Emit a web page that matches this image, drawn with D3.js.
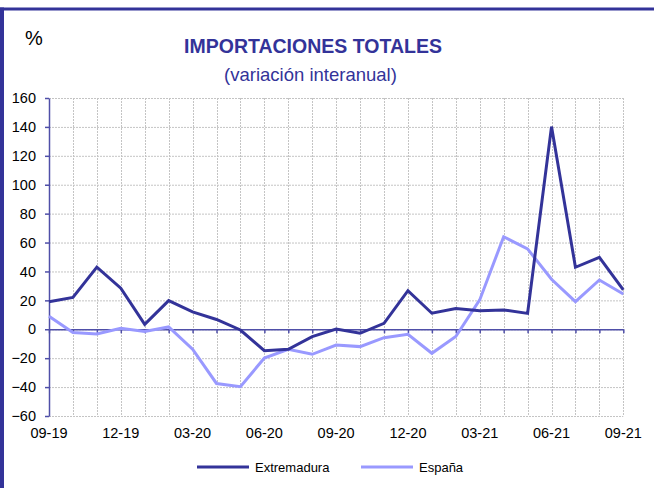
<!DOCTYPE html>
<html>
<head>
<meta charset="utf-8">
<script src="https://cdn.jsdelivr.net/npm/d3@7"></script>
<style>
  body { margin: 0; background: #fff; }
  svg { display: block; font-family: "Liberation Sans", Arial, sans-serif; }
</style>
</head>
<body>
<div id="chart"></div>
<script>
// Chart Data
const months = ["09-19","10-19","11-19","12-19","01-20","02-20","03-20","04-20","05-20","06-20","07-20","08-20",
  "09-20","10-20","11-20","12-20","01-21","02-21","03-21","04-21","05-21","06-21","07-21","08-21","09-21"];
const tickLabels = ["09-19","12-19","03-20","06-20","09-20","12-20","03-21","06-21","09-21"];
const extremadura = [19, 22, 43, 28.4, 3.4, 19.8, 12, 6.8, -0.5, -14.8, -13.8, -5.1, 0.2, -2.8, 4.1, 26.7,
  11.1, 14.3, 12.8, 13.4, 11, 140.2, 42.9, 49.8, 27.2];
const espana = [9, -2.3, -3.3, 0.7, -1.6, 1.6, -13.8, -37.5, -39.7, -19.9, -13.8, -17.3, -10.9, -12, -5.8, -3.5,
  -16.6, -5, 20.3, 64, 55.6, 34.6, 19.1, 34.1, 24.4];
const yTicks = [-60, -40, -20, 0, 20, 40, 60, 80, 100, 120, 140, 160];

// Dimensions
let w = 654, h = 488;
let plotLeft = 49, plotRight = 623.3, plotTop = 98, plotBottom = 416;
let frameColor = "#333399", axisColor = "#4f4fa8";

let svg = d3.select("#chart").append("svg").attr("width", w).attr("height", h);

// Frame
svg.append("rect").attr("x", 0).attr("y", 7.5).attr("width", w).attr("height", 3).attr("fill", frameColor);
svg.append("rect").attr("x", 0).attr("y", 7.5).attr("width", 4).attr("height", h).attr("fill", frameColor);

// Scales
let x = d3.scaleLinear().domain([0, months.length - 1]).range([plotLeft, plotRight]);
let y = d3.scaleLinear().domain([-60, 160]).range([plotBottom, plotTop]);

// Gridlines
let grid = svg.append("g").attr("stroke", "#c4c4c4").attr("stroke-width", 1).attr("stroke-dasharray", "2,1");
grid.selectAll("line.h").data(yTicks).enter().append("line")
  .attr("x1", plotLeft).attr("x2", plotRight).attr("y1", d => y(d) + 0.5).attr("y2", d => y(d) + 0.5);
grid.selectAll("line.v").data(months).enter().append("line")
  .attr("x1", (d, i) => Math.round(x(i)) + 0.5).attr("x2", (d, i) => Math.round(x(i)) + 0.5)
  .attr("y1", plotTop).attr("y2", plotBottom);

// Y Axis
let yAxis = svg.append("g").attr("transform", "translate(" + plotLeft + ",0)")
  .call(d3.axisLeft(y).tickValues(yTicks).tickSize(4).tickSizeOuter(0).tickPadding(9));
yAxis.select(".domain").attr("stroke", axisColor).attr("stroke-width", 1.5);
yAxis.selectAll(".tick line").attr("stroke", axisColor).attr("stroke-width", 1.5);
yAxis.selectAll(".tick text").attr("fill", "#000").style("font-size", "14.5px")
  .style("font-family", "'Liberation Sans', Arial, sans-serif");

// X Axis On Zero Line
let xAxis = svg.append("g").attr("transform", "translate(0," + y(0) + ")")
  .call(d3.axisBottom(x).tickValues(d3.range(months.length)).tickSize(4).tickSizeOuter(0).tickFormat(""));
xAxis.select(".domain").attr("stroke", axisColor).attr("stroke-width", 1.5);
xAxis.selectAll(".tick line").attr("stroke", axisColor).attr("stroke-width", 1.5);

// X Tick Labels At Bottom
svg.append("g").selectAll("text").data(tickLabels).enter().append("text")
  .attr("x", d => x(months.indexOf(d)))
  .attr("y", 438)
  .attr("text-anchor", "middle")
  .style("font-size", "14.5px")
  .text(d => d);

// Lines
let line = d3.line().x((d, i) => x(i)).y(d => y(d));
svg.append("path").datum(espana).attr("d", line)
  .attr("fill", "none").attr("stroke", "#9999ff").attr("stroke-width", 3).attr("stroke-linejoin", "miter");
svg.append("path").datum(extremadura).attr("d", line)
  .attr("fill", "none").attr("stroke", "#333399").attr("stroke-width", 3).attr("stroke-linejoin", "miter");

// Titles
svg.append("text").attr("x", 25).attr("y", 45).style("font-size", "20px").text("%");
svg.append("text").attr("x", 313).attr("y", 52.5).attr("text-anchor", "middle")
  .style("font-size", "19.5px").style("font-weight", "bold").attr("fill", "#333399")
  .text("IMPORTACIONES TOTALES");
svg.append("text").attr("x", 310.5).attr("y", 81).attr("text-anchor", "middle")
  .style("font-size", "18.5px").attr("fill", "#333399")
  .text("(variación interanual)");

// Legend
let legend = [["Extremadura", "#333399", 197], ["España", "#9999ff", 361]];
let lg = svg.append("g").selectAll("g").data(legend).enter().append("g");
lg.append("line").attr("x1", d => d[2]).attr("x2", d => d[2] + 52).attr("y1", 467).attr("y2", 467)
  .attr("stroke", d => d[1]).attr("stroke-width", 3);
lg.append("text").attr("x", d => d[2] + 58).attr("y", 472).style("font-size", "13px").text(d => d[0]);
</script>
</body>
</html>
